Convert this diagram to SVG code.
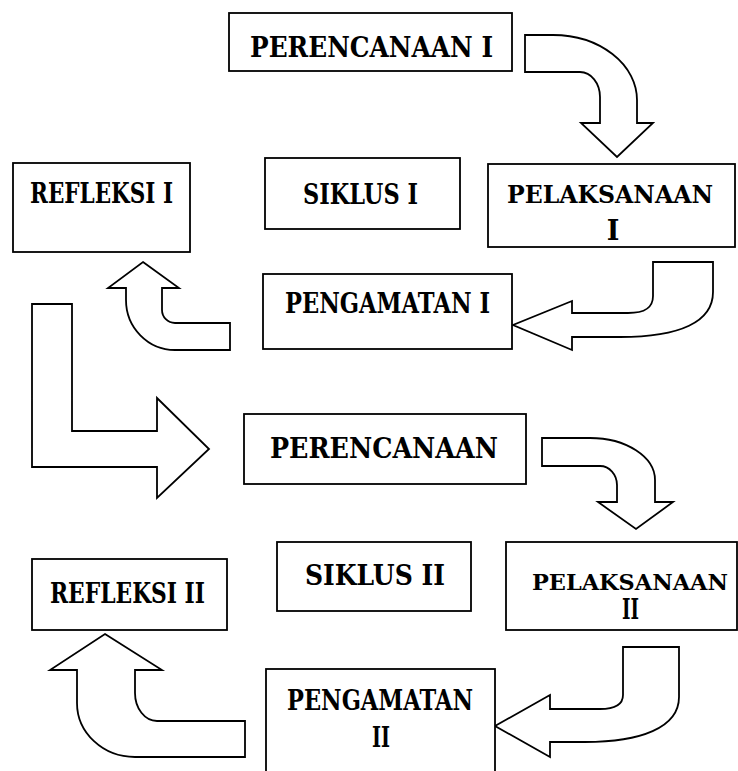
<svg xmlns="http://www.w3.org/2000/svg" width="738" height="771" viewBox="0 0 738 771">
<style>
.box{fill:#fff;stroke:#000;stroke-width:1.8}
.arr{fill:#fff;stroke:#000;stroke-width:1.8;stroke-linejoin:miter}
.t{font-family:"DejaVu Serif","Liberation Serif",serif;font-weight:bold;font-size:27px;fill:#000}
.s{font-size:24px}
.s2{font-size:23px}
</style>
<rect width="738" height="771" fill="#fff"/>
<g id="connectors">
<path class="arr" d="M525 35 L553 35 A84 65 0 0 1 637 100 L637 123 L653 123 L617 157 L581 123 L600 123 L600 97 A20 25 0 0 0 580 72 L525 72 Z"/>
<path class="arr" d="M653 262 L713 262 L713 292 C713 322 680 337 620 337 L572 337 L572 350 L513 325 L572 301 L572 313 L628 313 C645 313 653 308 653 296 Z"/>
<path class="arr" d="M143 262 L179 288 L162 288 L162 310 A13 13 0 0 0 175 323 L230 323 L230 350 L175 350 A49 50 0 0 1 126 300 L126 288 L108 288 Z"/>
<path class="arr" d="M32 304 L72 304 L72 431 L157 431 L157 398 L209 449 L157 498 L157 467 L32 467 Z"/>
<path class="arr" d="M542 438 L590 438 A65 42 0 0 1 655 480 L655 502 L673 502 L636 529 L598 502 L617 502 L617 485 A17 19 0 0 0 600 466 L542 466 Z"/>
<path class="arr" d="M623 647 L679 647 L679 697 C679 728 640 742 585 742 L550 742 L550 757 L495 726 L550 695 L550 709 L600 709 C615 709 623 705 623 695 Z"/>
<path class="arr" d="M105 634 L162 670 L135 670 L135 693 A22 28 0 0 0 157 721 L245 721 L245 757 L135 757 A58 54 0 0 1 77 703 L77 670 L50 670 Z"/>
</g>
<g id="perencanaan1">
<rect class="box" x="229" y="13" width="283" height="58"/>
<text class="t" x="250" y="57" textLength="243" lengthAdjust="spacingAndGlyphs">PERENCANAAN I</text>
</g>
<g id="siklus1">
<rect class="box" x="265" y="158" width="195" height="71"/>
<text class="t" x="303" y="204" textLength="115" lengthAdjust="spacingAndGlyphs">SIKLUS I</text>
</g>
<g id="pelaksanaan1">
<rect class="box" x="488" y="164" width="247" height="83"/>
<text class="t s" x="507" y="203" textLength="206" lengthAdjust="spacingAndGlyphs">PELAKSANAAN</text>
<text class="t" x="613" y="240" text-anchor="middle">I</text>
</g>
<g id="refleksi1">
<rect class="box" x="13" y="163" width="177" height="89"/>
<text class="t" x="30" y="203" textLength="143" lengthAdjust="spacingAndGlyphs">REFLEKSI I</text>
</g>
<g id="pengamatan1">
<rect class="box" x="263" y="274" width="249" height="75"/>
<text class="t" x="285" y="313" textLength="205" lengthAdjust="spacingAndGlyphs">PENGAMATAN I</text>
</g>
<g id="perencanaan2">
<rect class="box" x="244" y="414" width="282" height="70"/>
<text class="t" x="270" y="458" textLength="228" lengthAdjust="spacingAndGlyphs">PERENCANAAN</text>
</g>
<g id="siklus2">
<rect class="box" x="277" y="542" width="194" height="69"/>
<text class="t" x="305" y="585" textLength="140" lengthAdjust="spacingAndGlyphs">SIKLUS II</text>
</g>
<g id="pelaksanaan2">
<rect class="box" x="506" y="542" width="231" height="88"/>
<text class="t s2" x="532" y="590" textLength="196" lengthAdjust="spacingAndGlyphs">PELAKSANAAN</text>
<text class="t" x="622" y="619" textLength="17" lengthAdjust="spacingAndGlyphs">II</text>
</g>
<g id="refleksi2">
<rect class="box" x="32" y="559" width="195" height="71"/>
<text class="t" x="50" y="603" textLength="155" lengthAdjust="spacingAndGlyphs">REFLEKSI II</text>
</g>
<g id="pengamatan2">
<rect class="box" x="266" y="669" width="229" height="130"/>
<text class="t" x="287" y="710" textLength="186" lengthAdjust="spacingAndGlyphs">PENGAMATAN</text>
<text class="t" x="372" y="747" textLength="18" lengthAdjust="spacingAndGlyphs">II</text>
</g>
</svg>
